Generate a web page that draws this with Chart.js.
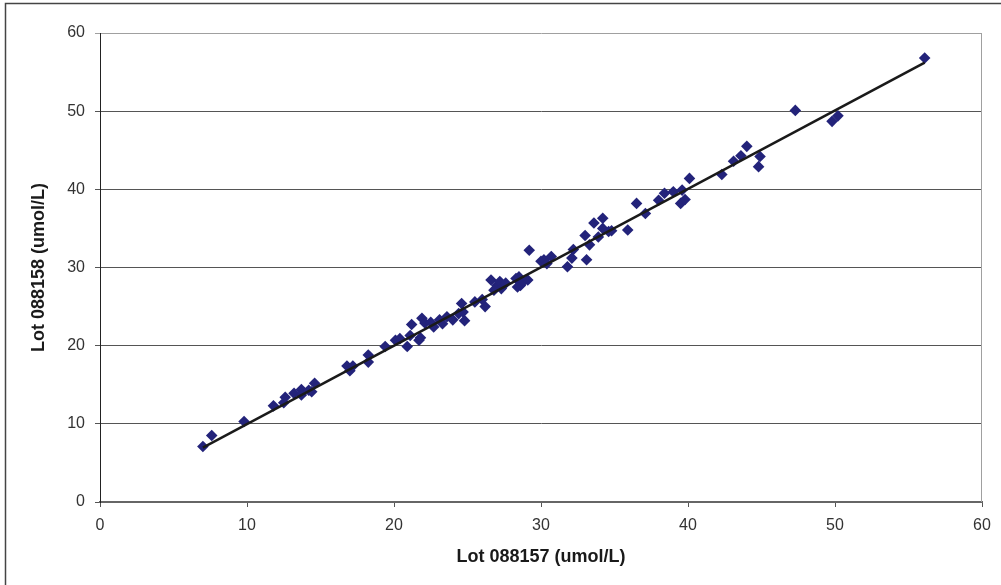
<!DOCTYPE html>
<html>
<head>
<meta charset="utf-8">
<script src="https://cdn.jsdelivr.net/npm/chart.js@4.4.1/dist/chart.umd.min.js"></script>
<style>
  html, body { margin: 0; padding: 0; background: #ffffff; }
  #wrap { width: 1001px; height: 585px; position: relative; }
</style>
</head>
<body>
<div id="wrap"><canvas id="c" width="1001" height="585"></canvas></div>
<script>
// Lot 088157 (x) vs Lot 088158 (y), umol/L
const lot088157 = [
  7.0, 7.6, 9.8, 11.8, 12.5, 12.6, 13.2, 13.7, 13.7, 14.4, 14.6, 14.2,
  16.8, 17.0, 17.2, 18.25, 18.25, 19.4, 20.1, 20.4, 20.9, 21.1, 21.2, 21.7,
  21.8, 21.9, 22.1, 22.7, 22.5, 23.1, 23.3, 23.6, 24.0, 24.4, 24.6, 24.7,
  24.8, 25.5, 26.2, 26.0, 26.6, 27.0, 27.2, 27.3, 26.8, 27.6, 28.3, 28.5,
  28.6, 28.8, 29.1, 28.4, 29.2, 30.0, 30.2, 30.4, 30.7, 31.8, 32.1, 32.2,
  33.1, 33.0, 33.3, 33.6, 33.9, 34.2, 34.2, 34.6, 34.8, 35.9, 36.5, 37.1,
  38.0, 38.4, 39.0, 39.6, 39.5, 39.8, 40.1, 42.3, 43.1, 43.6, 44.0, 44.8,
  44.9, 47.3, 49.8, 50.2, 56.1
];
const lot088158 = [
  7.1, 8.5, 10.3, 12.3, 12.7, 13.4, 13.9, 14.4, 13.7, 14.1, 15.2, 14.3,
  17.4, 16.8, 17.4, 18.8, 17.9, 19.9, 20.7, 20.9, 19.9, 21.3, 22.7, 20.7,
  21.0, 23.5, 22.9, 22.4, 23.0, 23.3, 22.8, 23.7, 23.3, 24.1, 25.4, 24.3,
  23.2, 25.6, 25.0, 25.9, 28.4, 27.7, 28.2, 27.3, 27.1, 28.0, 28.6, 28.8,
  27.7, 28.2, 28.4, 27.5, 32.2, 30.8, 31.0, 30.5, 31.4, 30.1, 31.2, 32.3,
  31.0, 34.1, 32.9, 35.7, 33.9, 36.3, 35.0, 34.6, 34.7, 34.8, 38.2, 36.9,
  38.6, 39.5, 39.7, 39.9, 38.2, 38.7, 41.4, 41.9, 43.6, 44.3, 45.5, 42.9,
  44.2, 50.1, 48.7, 49.4, 56.8
];
// linear trend line end points
const trendX = [7.0, 56.1];
const trendY = [6.95, 56.2];
const axisTicks = [0, 10, 20, 30, 40, 50, 60];
const xTitle = 'Lot 088157 (umol/L)';
const yTitle = 'Lot 088158 (umol/L)';

const points = lot088157.map((x, i) => ({ x: x, y: lot088158[i] }));
const trend = trendX.map((x, i) => ({ x: x, y: trendY[i] }));

const frame = {
  id: 'frame',
  beforeDraw(chart) {
    const ctx = chart.ctx;
    ctx.save();
    ctx.fillStyle = '#ffffff';
    ctx.fillRect(0, 0, chart.width, chart.height);
    ctx.strokeStyle = '#444444';
    ctx.lineWidth = 1.5;
    ctx.beginPath();
    ctx.moveTo(5.5, chart.height + 5);
    ctx.lineTo(5.5, 3.5);
    ctx.lineTo(chart.width + 5, 3.5);
    ctx.stroke();
    ctx.restore();
  },
  beforeDatasetsDraw(chart) {
    const a = chart.chartArea;
    const ctx = chart.ctx;
    ctx.save();
    ctx.strokeStyle = '#a0a0a0';
    ctx.lineWidth = 1;
    ctx.beginPath();
    ctx.moveTo(Math.round(a.right) - 0.5, a.top);
    ctx.lineTo(Math.round(a.right) - 0.5, a.bottom);
    ctx.stroke();
    ctx.restore();
  }
};

new Chart(document.getElementById('c'), {
  type: 'scatter',
  data: {
    datasets: [
      {
        type: 'line',
        label: 'Trend',
        data: trend,
        borderColor: '#1a1a1a',
        borderWidth: 2.5,
        pointRadius: 0,
        fill: false,
        order: 0
      },
      {
        label: 'Samples',
        data: points,
        pointStyle: 'rectRot',
        pointRadius: 5.8,
        pointBackgroundColor: '#23237a',
        pointBorderColor: '#23237a',
        pointBorderWidth: 0,
        order: 1
      }
    ]
  },
  options: {
    responsive: false,
    animation: false,
    devicePixelRatio: 1,
    layout: { padding: { left: 0, right: 19, top: 33, bottom: 0 } },
    plugins: { legend: { display: false }, tooltip: { enabled: false } },
    scales: {
      x: {
        type: 'linear',
        min: 0, max: 60,
        afterBuildTicks: s => { s.ticks = axisTicks.map(v => ({ value: v })); },
        afterFit: s => { s.height = 83; },
        grid: { display: true, drawOnChartArea: false, drawTicks: true, tickLength: 5, color: '#555555', lineWidth: 1 },
        border: { display: true, color: '#666666', width: 2 },
        ticks: { color: '#333333', padding: 9, font: { family: 'Liberation Sans, Arial', size: 16 }, maxRotation: 0 },
        title: { display: true, text: xTitle, color: '#1a1a1a', padding: { top: 0, bottom: 17 }, font: { family: 'Liberation Sans, Arial', size: 18, weight: 'bold' } }
      },
      y: {
        type: 'linear',
        min: 0, max: 60,
        afterBuildTicks: s => { s.ticks = axisTicks.map(v => ({ value: v })); },
        afterFit: s => { s.width = 100; },
        grid: {
          display: true, drawTicks: true, tickLength: 5, lineWidth: 1,
          color: ctx => (ctx.tick && ctx.tick.value === 60) ? '#a0a0a0' : '#555555'
        },
        border: { display: true, color: '#222222', width: 1 },
        ticks: { color: '#333333', padding: 10, font: { family: 'Liberation Sans, Arial', size: 16 } },
        title: { display: true, text: yTitle, color: '#1a1a1a', padding: { top: 28, bottom: 0 }, font: { family: 'Liberation Sans, Arial', size: 18, weight: 'bold' } }
      }
    }
  },
  plugins: [frame]
});
</script>
</body>
</html>
